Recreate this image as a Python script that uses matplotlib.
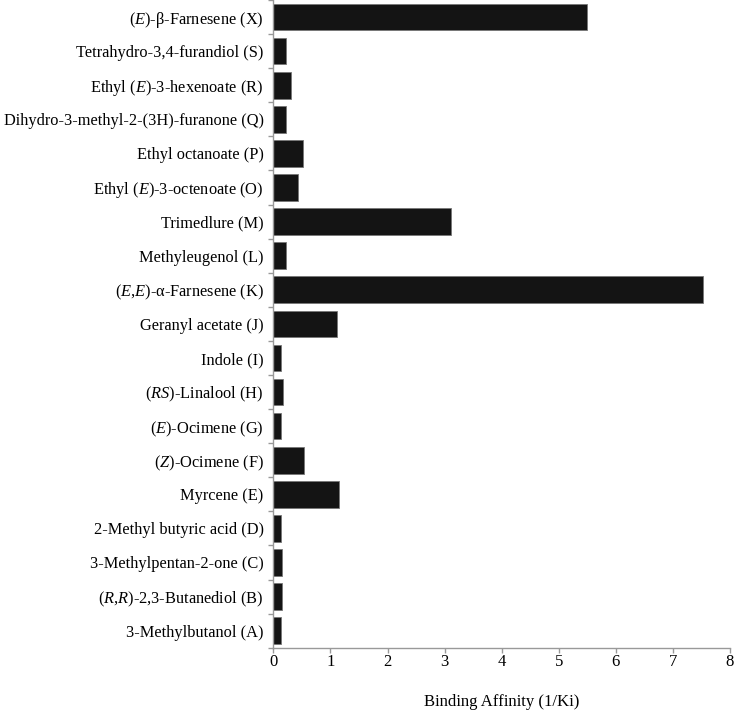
import matplotlib
matplotlib.use("Agg")
import matplotlib.pyplot as plt
import numpy as np

plt.rcParams['font.family'] = ['Liberation Serif', 'DejaVu Serif']
plt.rcParams['mathtext.fontset'] = 'custom'
plt.rcParams['mathtext.rm'] = 'Liberation Serif'
plt.rcParams['mathtext.it'] = 'Liberation Serif:italic'

# bottom to top
compounds = [
    "3-Methylbutanol (A)",
    r"($R$,$R$)-2,3-Butanediol (B)",
    "3-Methylpentan-2-one (C)",
    "2-Methyl butyric acid (D)",
    "Myrcene (E)",
    r"($Z$)-Ocimene (F)",
    r"($E$)-Ocimene (G)",
    r"($RS$)-Linalool (H)",
    "Indole (I)",
    "Geranyl acetate (J)",
    r"($E$,$E$)-α-Farnesene (K)",
    "Methyleugenol (L)",
    "Trimedlure (M)",
    r"Ethyl ($E$)-3-octenoate (O)",
    "Ethyl octanoate (P)",
    "Dihydro-3-methyl-2-(3H)-furanone (Q)",
    r"Ethyl ($E$)-3-hexenoate (R)",
    "Tetrahydro-3,4-furandiol (S)",
    r"($E$)-β-Farnesene (X)",
]
affinity = [0.13, 0.16, 0.16, 0.14, 1.15, 0.54, 0.13, 0.17, 0.14, 1.12,
            7.52, 0.22, 3.12, 0.43, 0.52, 0.23, 0.31, 0.23, 5.50]

fig = plt.figure(figsize=(7.35, 7.11), dpi=100)
ax = fig.add_axes([0.3719, 0.089, 0.6213, 0.911])

y = np.arange(len(compounds))
ax.barh(y, affinity, height=0.78, color='#141414', edgecolor='#777777', linewidth=0.6)

ax.set_xlim(0, 8)
ax.set_ylim(-0.5, len(compounds) - 0.5)
ax.set_xticks(range(0, 9))
ax.set_yticks(y)
ax.set_yticklabels(compounds, fontsize=11.8)
ax.set_yticks(np.arange(-0.5, len(compounds), 1), minor=True)
ax.tick_params(axis='y', which='major', length=0, pad=7)
ax.tick_params(axis='y', which='minor', length=3.6, color='#999999', width=1)
ax.tick_params(axis='x', length=3.6, color='#999999', width=1, labelsize=12, pad=1)

for s in ['top', 'right']:
    ax.spines[s].set_visible(False)
for s in ['left', 'bottom']:
    ax.spines[s].set_color('#999999')
    ax.spines[s].set_linewidth(1)

ax.set_xlabel("Binding Affinity (1/Ki)", fontsize=12, labelpad=17)

fig.savefig("out.png", dpi=100)
